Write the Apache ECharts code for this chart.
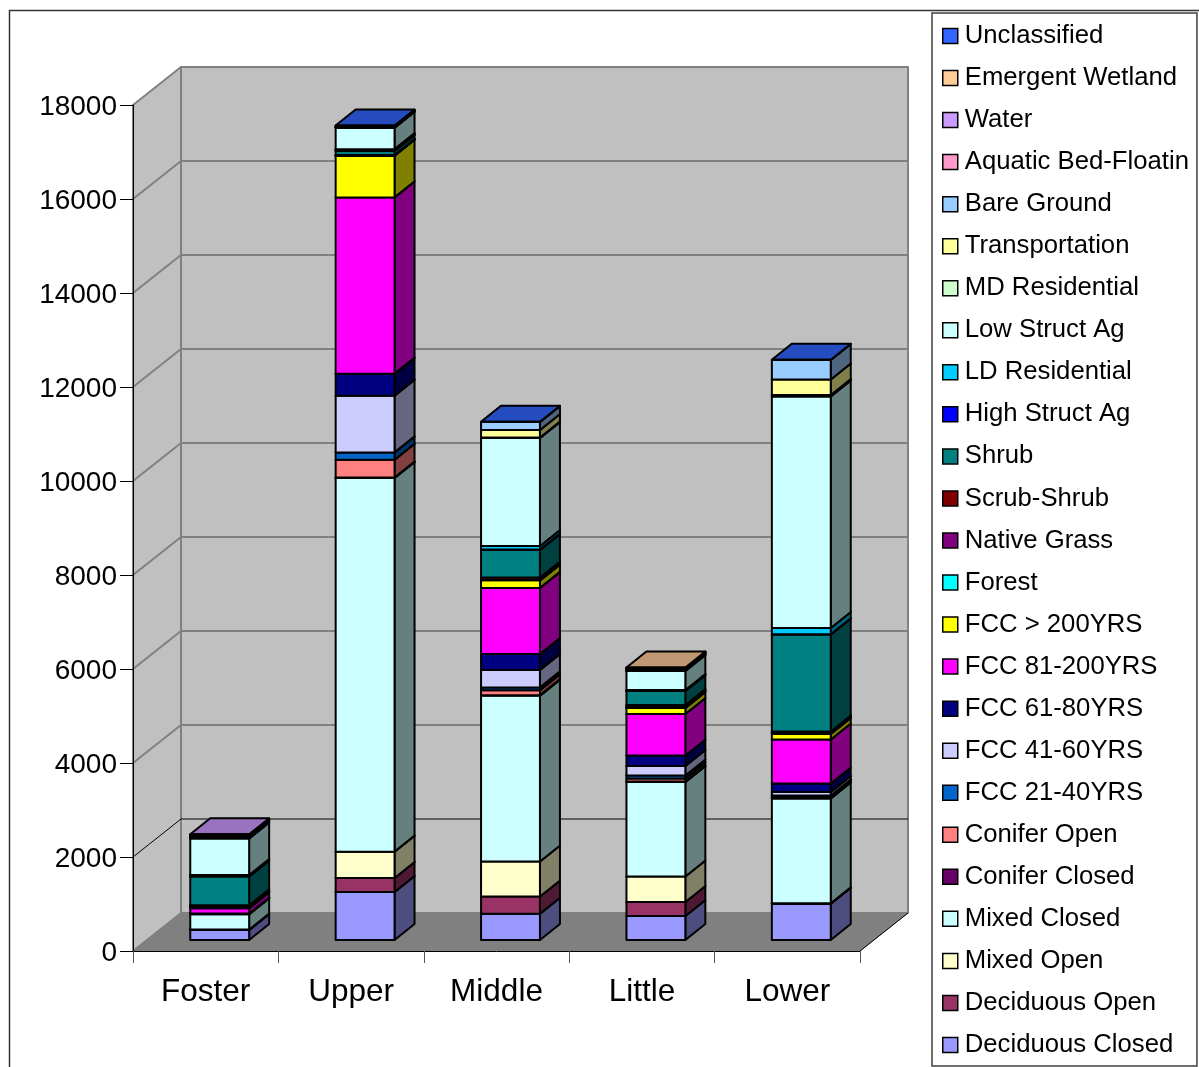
<!DOCTYPE html>
<html><head><meta charset="utf-8">
<style>html,body{margin:0;padding:0;background:#fff;overflow:hidden}#c{width:1199px;height:1067px}</style>
<script src="https://cdn.jsdelivr.net/npm/echarts@6/dist/echarts.min.js"></script>
</head><body><div id="c"></div>
<script>
const categories = ['Foster','Upper','Middle','Little','Lower'];
const yTicks = [2000,4000,6000,8000,10000,12000,14000,16000,18000];

const deciduousClosed = [213,1020,560,510,770];
const deciduousOpen   = [5,300,365,300,5];
const mixedOpen       = [5,560,745,540,5];
const mixedClosed     = [326,7950,3530,2010,2230];
const coniferClosed   = [5,10,10,10,20];
const coniferOpen     = [3,380,105,66,20];
const fcc21to40       = [2,155,60,64,24];
const fcc41to60       = [2,1205,372,202,75];
const fcc61to80       = [3,470,340,223,180];
const fcc81to200      = [110,3750,1405,883,936];
const fccOver200      = [15,887,160,128,117];
const forest          = [10,5,5,10,15];
const nativeGrass     = [25,5,5,20,20];
const scrubShrub      = [15,5,50,34,18];
const shrub           = [612,85,585,298,2064];
const highStructAg    = [10,20,10,5,5];
const ldResidential   = [20,20,75,16,133];
const lowStructAg     = [779,456,2300,404,4926];
const mdResidential   = [15,5,10,15,32];
const transportation  = [25,15,160,15,330];
const bareGround      = [25,15,170,15,414];
const aquaticBed      = [10,null,null,10,null];
const water           = [15,null,null,10,null];
const emergentWetland = [null,null,null,10,null];
const unclassified    = [null,10,5,null,5];

const names = ['Deciduous Closed','Deciduous Open','Mixed Open','Mixed Closed','Conifer Closed','Conifer Open','FCC 21-40YRS','FCC 41-60YRS','FCC 61-80YRS','FCC 81-200YRS','FCC > 200YRS','Forest','Native Grass','Scrub-Shrub','Shrub','High Struct Ag','LD Residential','Low Struct Ag','MD Residential','Transportation','Bare Ground','Aquatic Bed-Floatin','Water','Emergent Wetland','Unclassified'];
const colors = ['#9999ff','#993366','#ffffcc','#ccffff','#660066','#ff8080','#0066cc','#ccccff','#000080','#ff00ff','#ffff00','#00ffff','#800080','#800000','#008080','#0000ff','#00ccff','#ccffff','#ccffcc','#ffff99','#99ccff','#ff99cc','#cc99ff','#ffcc99','#3366ff'];
const values = [deciduousClosed,deciduousOpen,mixedOpen,mixedClosed,coniferClosed,coniferOpen,fcc21to40,fcc41to60,fcc61to80,fcc81to200,fccOver200,forest,nativeGrass,scrubShrub,shrub,highStructAg,ldResidential,lowStructAg,mdResidential,transportation,bareGround,aquaticBed,water,emergentWetland,unclassified];

const FONT = '"Liberation Sans", Arial, sans-serif';
const WALL_DX = 48, WALL_DY = 38, BAR_DX = 20, BAR_DY = 16;
const GAP_DX = (WALL_DX - BAR_DX) / 2, GAP_DY = (WALL_DY - BAR_DY) / 2;

function shade(hex, f) {
  const n = parseInt(hex.slice(1), 16);
  const p = s => Math.round(((n >> s) & 255) * f);
  return 'rgb(' + p(16) + ',' + p(8) + ',' + p(0) + ')';
}
function poly(points, fill, stroke, lw) {
  return { type: 'polygon', shape: { points }, style: { fill, stroke, lineWidth: lw, lineJoin: 'round' }, silent: true };
}
function line(a, b, stroke, lw) {
  return { type: 'line', shape: { x1: a[0], y1: a[1], x2: b[0], y2: b[1] }, style: { stroke, lineWidth: lw }, silent: true };
}

function renderWalls(params, api) {
  const cs = params.coordSys;
  const L = cs.x, R = cs.x + cs.width;
  const Y0 = api.coord([0, 0])[1], YT = api.coord([0, 18000])[1];
  const kids = [
    poly([[L,Y0],[L+WALL_DX,Y0-WALL_DY],[L+WALL_DX,YT-WALL_DY],[L,YT]], '#c0c0c0', '#808080', 2),
    poly([[L+WALL_DX,Y0-WALL_DY],[R+WALL_DX,Y0-WALL_DY],[R+WALL_DX,YT-WALL_DY],[L+WALL_DX,YT-WALL_DY]], '#c0c0c0', '#808080', 2),
    poly([[L,Y0],[L+WALL_DX,Y0-WALL_DY],[R+WALL_DX,Y0-WALL_DY],[R,Y0]], '#808080', '#808080', 1),
    line([R,Y0],[R+WALL_DX,Y0-WALL_DY],'#000',1)
  ];
  yTicks.forEach(v => {
    const y = api.coord([0, v])[1];
    const col = v === 2000 ? '#000' : '#808080';
    const lw = v === 2000 ? 1 : 2;
    if (v < 18000) {
      kids.push(line([L,y],[L+WALL_DX,y-WALL_DY],col,lw));
      kids.push(line([L+WALL_DX,y-WALL_DY],[R+WALL_DX,y-WALL_DY],col,lw));
    }
  });
  return { type: 'group', children: kids };
}

function barRenderer(color) {
  const top = shade(color, 0.75), side = shade(color, 0.5);
  return function (params, api) {
    const cat = api.value(0);
    const a = api.coord([cat, api.value(1)]);
    const b = api.coord([cat, api.value(2)]);
    const w = api.size([1, 0])[0] * 0.405;
    const x0 = a[0] + GAP_DX - w / 2, x1 = x0 + w;
    const yb = a[1] - GAP_DY, yt = b[1] - GAP_DY;
    return { type: 'group', children: [
      poly([[x1,yb],[x1+BAR_DX,yb-BAR_DY],[x1+BAR_DX,yt-BAR_DY],[x1,yt]], side, '#000', 2),
      poly([[x0,yt],[x1,yt],[x1+BAR_DX,yt-BAR_DY],[x0+BAR_DX,yt-BAR_DY]], top, '#000', 2),
      poly([[x0,yb],[x1,yb],[x1,yt],[x0,yt]], color, '#000', 2)
    ]};
  };
}

const running = categories.map(() => 0);
const barSeries = names.map((name, i) => {
  const data = [];
  values[i].forEach((v, c) => {
    if (v === null) return;
    data.push([c, running[c], running[c] + v]);
    running[c] += v;
  });
  return { type: 'custom', name, z: 3, silent: true, coordinateSystem: 'cartesian2d',
    itemStyle: { color: colors[i] }, renderItem: barRenderer(colors[i]),
    encode: { x: 0, y: 2 }, data };
});

const legendData = names.map((name, i) => ({
  name, icon: 'rect',
  itemStyle: { color: colors[i], borderColor: '#000', borderWidth: 1.5 }
})).reverse();

const chart = echarts.init(document.getElementById('c'), null, { renderer: 'canvas' });
chart.setOption({
  animation: false,
  backgroundColor: '#fff',
  graphic: [{ type: 'rect', shape: { x: 9.5, y: 10.5, width: 1300, height: 1200 }, style: { fill: 'none', stroke: '#333', lineWidth: 1.5 }, silent: true, z: 0 }],
  grid: { left: 133, top: 105, width: 727, height: 846, containLabel: false },
  xAxis: {
    type: 'category', data: categories, z: 10,
    axisLine: { show: true, onZero: false, lineStyle: { color: '#000', width: 1 } },
    axisTick: { show: true, alignWithLabel: false, length: 12, lineStyle: { color: '#555', width: 1 } },
    axisLabel: { color: '#000', fontFamily: FONT, fontSize: 31.5, margin: 25, interval: 0 }
  },
  yAxis: {
    type: 'value', min: 0, max: 18000, interval: 2000, z: 10,
    splitLine: { show: false },
    axisLine: { show: true, lineStyle: { color: '#000', width: 1 } },
    axisTick: { show: true, length: 13, lineStyle: { color: '#000', width: 1 } },
    axisLabel: { color: '#000', fontFamily: FONT, fontSize: 28, margin: 16, formatter: v => '{n|' + v + '}',
      rich: { n: { color: '#000', fontFamily: FONT, fontSize: 28, lineHeight: 32, padding: [4, 0, 0, 0] } } }
  },
  legend: {
    orient: 'vertical', left: 932, top: 13, padding: [8, 8, 6, 10],
    backgroundColor: '#fff', borderColor: '#404040', borderWidth: 1.5, borderRadius: 0,
    itemWidth: 15, itemHeight: 15, itemGap: 12.04, selectedMode: false,
    textStyle: { color: '#000', fontFamily: FONT, fontSize: 25.7, lineHeight: 30, padding: [0, 0, 0, 2] },
    data: legendData
  },
  series: [{
    type: 'custom', name: 'walls', z: 1, silent: true, coordinateSystem: 'cartesian2d',
    renderItem: renderWalls, encode: { x: 0, y: 1 }, data: [[0, 0]]
  }].concat(barSeries)
});
</script></body></html>
